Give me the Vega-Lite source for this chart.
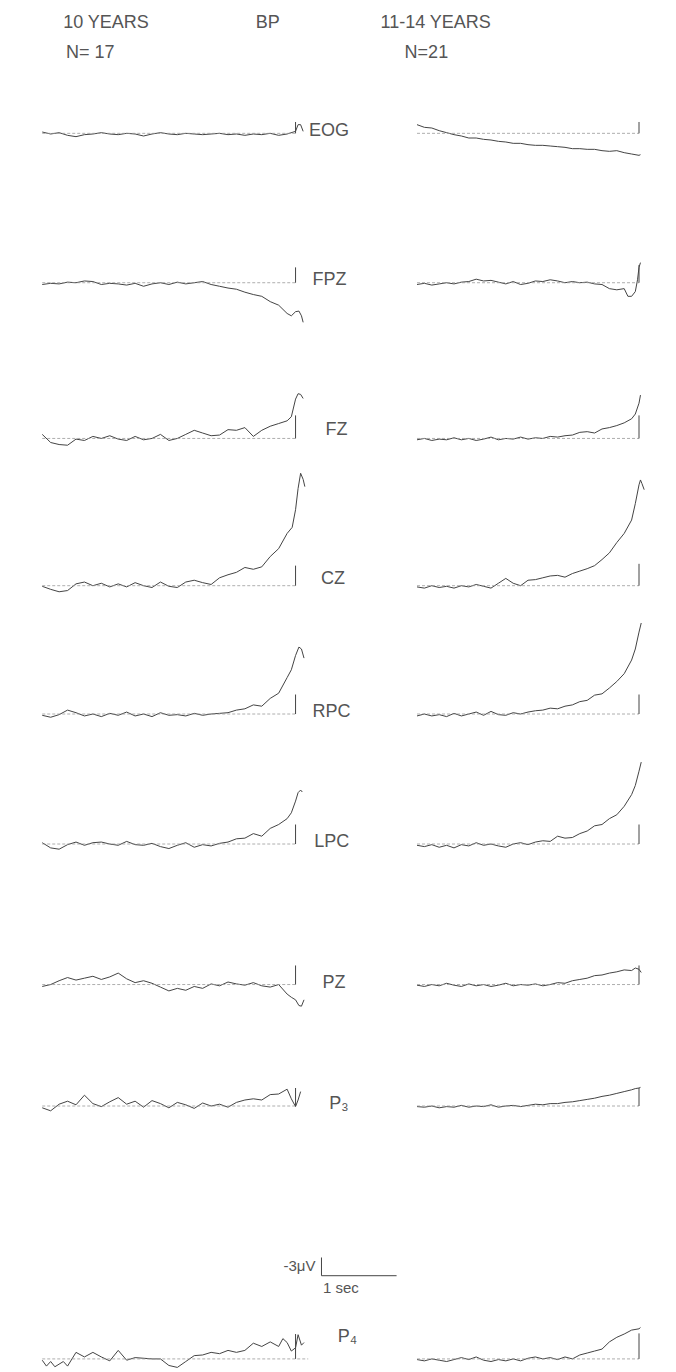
{
"$schema":"https://vega.github.io/schema/vega-lite/v6.json",
"background":"white","padding":0,"spacing":0,
"config":{"view":{"stroke":null},"concat":{"spacing":0},
"line":{"stroke":"#444","strokeWidth":1},
"rule":{"stroke":"#444","strokeWidth":1},
"text":{"font":"Liberation Sans","fontSize":18,"fill":"#555","baseline":"middle"}},
"datasets":{
"one":[{"k":1}],
"HDR_L":[{"text":"10 YEARS","t":-2.0,"line":1},{"text":"N= 17","t":-2.17,"line":2},{"text":"BP","t":-0.26,"line":1}],
"HDR_R":[{"text":"11-14 YEARS","t":-2.81,"line":1},{"text":"N=21","t":-2.91,"line":2}],
"EOG_L":[{"t":-3,"v":-0.2},{"t":-2.9,"v":0.1},{"t":-2.8,"v":-0.1},{"t":-2.7,"v":0.3},{"t":-2.6,"v":0.5},{"t":-2.5,"v":0.2},{"t":-2.4,"v":0.1},{"t":-2.3,"v":-0.1},{"t":-2.2,"v":0.1},{"t":-2.1,"v":0.2},{"t":-2,"v":0},{"t":-1.9,"v":0.1},{"t":-1.8,"v":0.4},{"t":-1.7,"v":0.1},{"t":-1.6,"v":-0.1},{"t":-1.5,"v":0.1},{"t":-1.4,"v":0.2},{"t":-1.3,"v":0},{"t":-1.2,"v":0.1},{"t":-1.1,"v":0.2},{"t":-1,"v":0.1},{"t":-0.9,"v":0},{"t":-0.8,"v":0.2},{"t":-0.7,"v":0.1},{"t":-0.6,"v":0.3},{"t":-0.5,"v":0.1},{"t":-0.4,"v":0.2},{"t":-0.3,"v":0},{"t":-0.2,"v":0.3},{"t":-0.1,"v":0.1},{"t":0,"v":-0.3},{"t":0.03,"v":-1.3},{"t":0.06,"v":-1.3},{"t":0.09,"v":-0.3}],
"EOG_R":[{"t":-3,"v":-1.3},{"t":-2.9,"v":-0.9},{"t":-2.8,"v":-0.8},{"t":-2.7,"v":-0.4},{"t":-2.6,"v":-0.1},{"t":-2.5,"v":0.2},{"t":-2.4,"v":0.4},{"t":-2.3,"v":0.7},{"t":-2.2,"v":0.7},{"t":-2.1,"v":0.9},{"t":-2,"v":1.0},{"t":-1.9,"v":1.2},{"t":-1.8,"v":1.3},{"t":-1.7,"v":1.5},{"t":-1.6,"v":1.5},{"t":-1.5,"v":1.7},{"t":-1.4,"v":1.8},{"t":-1.3,"v":1.8},{"t":-1.2,"v":1.9},{"t":-1.1,"v":2.0},{"t":-1,"v":2.1},{"t":-0.9,"v":2.3},{"t":-0.8,"v":2.3},{"t":-0.7,"v":2.4},{"t":-0.6,"v":2.4},{"t":-0.5,"v":2.6},{"t":-0.4,"v":2.7},{"t":-0.3,"v":2.6},{"t":-0.2,"v":2.9},{"t":-0.1,"v":3.1},{"t":0,"v":3.3},{"t":0.02,"v":3.2}],
"FPZ_L":[{"t":-3,"v":0.3},{"t":-2.9,"v":0.1},{"t":-2.8,"v":0.2},{"t":-2.7,"v":-0.1},{"t":-2.6,"v":0},{"t":-2.5,"v":-0.3},{"t":-2.4,"v":-0.2},{"t":-2.3,"v":0.3},{"t":-2.2,"v":0.1},{"t":-2.1,"v":0.2},{"t":-2,"v":0.4},{"t":-1.9,"v":0.1},{"t":-1.8,"v":0.6},{"t":-1.7,"v":0.2},{"t":-1.6,"v":0},{"t":-1.5,"v":0.3},{"t":-1.4,"v":-0.1},{"t":-1.3,"v":0.2},{"t":-1.2,"v":0},{"t":-1.1,"v":-0.2},{"t":-1,"v":0.3},{"t":-0.9,"v":0.6},{"t":-0.8,"v":0.9},{"t":-0.7,"v":1.1},{"t":-0.6,"v":1.6},{"t":-0.5,"v":2.0},{"t":-0.4,"v":2.3},{"t":-0.3,"v":3.2},{"t":-0.2,"v":3.8},{"t":-0.1,"v":5.2},{"t":-0.05,"v":5.6},{"t":0,"v":4.9},{"t":0.04,"v":4.8},{"t":0.07,"v":5.6},{"t":0.09,"v":6.7}],
"FPZ_R":[{"t":-3,"v":0.3},{"t":-2.9,"v":0.1},{"t":-2.8,"v":0.4},{"t":-2.7,"v":0.2},{"t":-2.6,"v":0},{"t":-2.5,"v":0.2},{"t":-2.4,"v":-0.1},{"t":-2.3,"v":-0.2},{"t":-2.2,"v":-0.6},{"t":-2.1,"v":-0.3},{"t":-2,"v":-0.4},{"t":-1.9,"v":-0.1},{"t":-1.8,"v":0.2},{"t":-1.7,"v":-0.2},{"t":-1.6,"v":0.3},{"t":-1.5,"v":0.1},{"t":-1.4,"v":-0.3},{"t":-1.3,"v":-0.2},{"t":-1.2,"v":-0.5},{"t":-1.1,"v":-0.3},{"t":-1,"v":0},{"t":-0.9,"v":-0.2},{"t":-0.8,"v":0},{"t":-0.7,"v":-0.1},{"t":-0.6,"v":0.2},{"t":-0.5,"v":0.3},{"t":-0.4,"v":1.0},{"t":-0.3,"v":1.2},{"t":-0.2,"v":1.0},{"t":-0.15,"v":2.3},{"t":-0.1,"v":2.3},{"t":-0.05,"v":1.5},{"t":-0.02,"v":-0.5},{"t":0,"v":-2.6},{"t":0.02,"v":-3.4}],
"FZ_L":[{"t":-3,"v":-0.6},{"t":-2.9,"v":0.6},{"t":-2.8,"v":0.9},{"t":-2.7,"v":1.0},{"t":-2.6,"v":0.1},{"t":-2.5,"v":0.3},{"t":-2.4,"v":-0.3},{"t":-2.3,"v":0},{"t":-2.2,"v":-0.4},{"t":-2.1,"v":0.1},{"t":-2,"v":0.3},{"t":-1.9,"v":-0.3},{"t":-1.8,"v":0.2},{"t":-1.7,"v":0},{"t":-1.6,"v":-0.6},{"t":-1.5,"v":0.3},{"t":-1.4,"v":0},{"t":-1.3,"v":-0.6},{"t":-1.2,"v":-1.2},{"t":-1.1,"v":-0.8},{"t":-1,"v":-0.4},{"t":-0.9,"v":-0.5},{"t":-0.8,"v":-1.3},{"t":-0.7,"v":-1.2},{"t":-0.6,"v":-1.6},{"t":-0.5,"v":-0.3},{"t":-0.4,"v":-1.2},{"t":-0.3,"v":-1.8},{"t":-0.2,"v":-2.2},{"t":-0.1,"v":-2.6},{"t":-0.05,"v":-3.2},{"t":0,"v":-5.8},{"t":0.03,"v":-6.6},{"t":0.06,"v":-6.5},{"t":0.09,"v":-5.9}],
"FZ_R":[{"t":-3,"v":0.2},{"t":-2.9,"v":0},{"t":-2.8,"v":0.3},{"t":-2.7,"v":0.1},{"t":-2.6,"v":0.2},{"t":-2.5,"v":-0.1},{"t":-2.4,"v":0.2},{"t":-2.3,"v":0},{"t":-2.2,"v":0.3},{"t":-2.1,"v":0.1},{"t":-2,"v":-0.2},{"t":-1.9,"v":0.2},{"t":-1.8,"v":0},{"t":-1.7,"v":0.1},{"t":-1.6,"v":-0.2},{"t":-1.5,"v":0.1},{"t":-1.4,"v":-0.1},{"t":-1.3,"v":0},{"t":-1.2,"v":-0.3},{"t":-1.1,"v":-0.2},{"t":-1,"v":-0.4},{"t":-0.9,"v":-0.5},{"t":-0.8,"v":-0.9},{"t":-0.7,"v":-1.0},{"t":-0.6,"v":-0.8},{"t":-0.5,"v":-1.4},{"t":-0.4,"v":-1.6},{"t":-0.3,"v":-1.9},{"t":-0.2,"v":-2.3},{"t":-0.1,"v":-2.9},{"t":-0.05,"v":-3.6},{"t":0,"v":-5.2},{"t":0.02,"v":-6.4}],
"CZ_L":[{"t":-3,"v":0.1},{"t":-2.9,"v":0.6},{"t":-2.8,"v":1.0},{"t":-2.7,"v":0.8},{"t":-2.6,"v":-0.3},{"t":-2.5,"v":-0.6},{"t":-2.4,"v":0},{"t":-2.3,"v":-0.4},{"t":-2.2,"v":0.2},{"t":-2.1,"v":-0.3},{"t":-2,"v":0.2},{"t":-1.9,"v":-0.5},{"t":-1.8,"v":0},{"t":-1.7,"v":0.3},{"t":-1.6,"v":-0.6},{"t":-1.5,"v":0.1},{"t":-1.4,"v":0.3},{"t":-1.3,"v":-0.6},{"t":-1.2,"v":-0.9},{"t":-1.1,"v":-0.5},{"t":-1,"v":-0.2},{"t":-0.9,"v":-1.3},{"t":-0.8,"v":-1.8},{"t":-0.7,"v":-2.2},{"t":-0.6,"v":-3.0},{"t":-0.5,"v":-2.7},{"t":-0.4,"v":-3.1},{"t":-0.3,"v":-4.8},{"t":-0.2,"v":-6.1},{"t":-0.1,"v":-8.6},{"t":-0.04,"v":-9.6},{"t":0,"v":-12.5},{"t":0.03,"v":-16.0},{"t":0.06,"v":-18.5},{"t":0.09,"v":-17.5},{"t":0.11,"v":-16.3}],
"CZ_R":[{"t":-3,"v":0.2},{"t":-2.9,"v":0.4},{"t":-2.8,"v":0},{"t":-2.7,"v":0.3},{"t":-2.6,"v":0.1},{"t":-2.5,"v":0.4},{"t":-2.4,"v":0},{"t":-2.3,"v":0.2},{"t":-2.2,"v":-0.2},{"t":-2.1,"v":0.1},{"t":-2,"v":0.4},{"t":-1.9,"v":-0.4},{"t":-1.8,"v":-1.2},{"t":-1.7,"v":-0.4},{"t":-1.6,"v":0},{"t":-1.5,"v":-0.9},{"t":-1.4,"v":-1.0},{"t":-1.3,"v":-1.3},{"t":-1.2,"v":-1.6},{"t":-1.1,"v":-1.7},{"t":-1,"v":-1.4},{"t":-0.9,"v":-2.0},{"t":-0.8,"v":-2.4},{"t":-0.7,"v":-2.8},{"t":-0.6,"v":-3.3},{"t":-0.5,"v":-4.3},{"t":-0.4,"v":-5.4},{"t":-0.3,"v":-7.1},{"t":-0.2,"v":-8.6},{"t":-0.1,"v":-10.8},{"t":-0.05,"v":-13.5},{"t":0,"v":-16.6},{"t":0.02,"v":-17.4},{"t":0.04,"v":-16.8},{"t":0.07,"v":-15.8}],
"RPC_L":[{"t":-3,"v":0.2},{"t":-2.9,"v":0.5},{"t":-2.8,"v":0.1},{"t":-2.7,"v":-0.6},{"t":-2.6,"v":-0.2},{"t":-2.5,"v":0.3},{"t":-2.4,"v":0},{"t":-2.3,"v":0.4},{"t":-2.2,"v":-0.1},{"t":-2.1,"v":0.2},{"t":-2,"v":-0.3},{"t":-1.9,"v":0.3},{"t":-1.8,"v":0},{"t":-1.7,"v":0.4},{"t":-1.6,"v":-0.2},{"t":-1.5,"v":0.2},{"t":-1.4,"v":0.1},{"t":-1.3,"v":0.3},{"t":-1.2,"v":-0.1},{"t":-1.1,"v":0.2},{"t":-1,"v":0},{"t":-0.9,"v":-0.1},{"t":-0.8,"v":-0.2},{"t":-0.7,"v":-0.6},{"t":-0.6,"v":-0.8},{"t":-0.5,"v":-1.4},{"t":-0.4,"v":-1.2},{"t":-0.3,"v":-2.4},{"t":-0.2,"v":-3.2},{"t":-0.1,"v":-5.6},{"t":-0.05,"v":-6.8},{"t":0,"v":-9.0},{"t":0.04,"v":-10.3},{"t":0.07,"v":-10.0},{"t":0.1,"v":-8.6}],
"RPC_R":[{"t":-3,"v":0.3},{"t":-2.9,"v":0},{"t":-2.8,"v":0.3},{"t":-2.7,"v":0.1},{"t":-2.6,"v":0.4},{"t":-2.5,"v":-0.1},{"t":-2.4,"v":0.3},{"t":-2.3,"v":0},{"t":-2.2,"v":-0.3},{"t":-2.1,"v":0.2},{"t":-2,"v":-0.4},{"t":-1.9,"v":0.1},{"t":-1.8,"v":0.2},{"t":-1.7,"v":-0.2},{"t":-1.6,"v":0},{"t":-1.5,"v":-0.3},{"t":-1.4,"v":-0.5},{"t":-1.3,"v":-0.6},{"t":-1.2,"v":-0.9},{"t":-1.1,"v":-0.8},{"t":-1,"v":-1.2},{"t":-0.9,"v":-1.4},{"t":-0.8,"v":-1.9},{"t":-0.7,"v":-2.1},{"t":-0.6,"v":-2.9},{"t":-0.5,"v":-3.1},{"t":-0.4,"v":-4.0},{"t":-0.3,"v":-5.0},{"t":-0.2,"v":-6.2},{"t":-0.1,"v":-8.3},{"t":-0.05,"v":-10.0},{"t":0,"v":-12.6},{"t":0.03,"v":-14.0}],
"LPC_L":[{"t":-3,"v":-0.2},{"t":-2.9,"v":0.6},{"t":-2.8,"v":0.8},{"t":-2.7,"v":0.1},{"t":-2.6,"v":-0.3},{"t":-2.5,"v":0.2},{"t":-2.4,"v":-0.2},{"t":-2.3,"v":-0.3},{"t":-2.2,"v":0},{"t":-2.1,"v":0.2},{"t":-2,"v":-0.4},{"t":-1.9,"v":0.1},{"t":-1.8,"v":0.2},{"t":-1.7,"v":-0.1},{"t":-1.6,"v":0.4},{"t":-1.5,"v":0.7},{"t":-1.4,"v":0.2},{"t":-1.3,"v":-0.2},{"t":-1.2,"v":0.5},{"t":-1.1,"v":0.1},{"t":-1,"v":0.3},{"t":-0.9,"v":-0.1},{"t":-0.8,"v":-0.3},{"t":-0.7,"v":-0.8},{"t":-0.6,"v":-0.9},{"t":-0.5,"v":-1.6},{"t":-0.4,"v":-1.2},{"t":-0.3,"v":-2.4},{"t":-0.2,"v":-3.0},{"t":-0.1,"v":-3.9},{"t":-0.05,"v":-4.8},{"t":0,"v":-6.6},{"t":0.03,"v":-7.9},{"t":0.06,"v":-8.3},{"t":0.08,"v":-8.0}],
"LPC_R":[{"t":-3,"v":0.2},{"t":-2.9,"v":0.4},{"t":-2.8,"v":0.1},{"t":-2.7,"v":0.5},{"t":-2.6,"v":0.2},{"t":-2.5,"v":0.6},{"t":-2.4,"v":0.1},{"t":-2.3,"v":0.3},{"t":-2.2,"v":-0.2},{"t":-2.1,"v":0.2},{"t":-2,"v":0},{"t":-1.9,"v":0.3},{"t":-1.8,"v":0.5},{"t":-1.7,"v":0},{"t":-1.6,"v":-0.2},{"t":-1.5,"v":0.1},{"t":-1.4,"v":-0.3},{"t":-1.3,"v":-0.5},{"t":-1.2,"v":-0.4},{"t":-1.1,"v":-1.2},{"t":-1,"v":-0.9},{"t":-0.9,"v":-1.0},{"t":-0.8,"v":-1.6},{"t":-0.7,"v":-2.0},{"t":-0.6,"v":-2.8},{"t":-0.5,"v":-3.0},{"t":-0.4,"v":-3.9},{"t":-0.3,"v":-4.5},{"t":-0.2,"v":-5.8},{"t":-0.1,"v":-7.6},{"t":-0.05,"v":-9.0},{"t":0,"v":-11.2},{"t":0.03,"v":-12.6}],
"PZ_L":[{"t":-3,"v":0.3},{"t":-2.9,"v":0},{"t":-2.8,"v":-0.6},{"t":-2.7,"v":-1.1},{"t":-2.6,"v":-0.7},{"t":-2.5,"v":-1.0},{"t":-2.4,"v":-1.3},{"t":-2.3,"v":-0.8},{"t":-2.2,"v":-1.2},{"t":-2.1,"v":-1.8},{"t":-2,"v":-0.9},{"t":-1.9,"v":-0.3},{"t":-1.8,"v":-0.6},{"t":-1.7,"v":-0.2},{"t":-1.6,"v":0.4},{"t":-1.5,"v":1.0},{"t":-1.4,"v":0.6},{"t":-1.3,"v":0.9},{"t":-1.2,"v":0.3},{"t":-1.1,"v":0.6},{"t":-1,"v":-0.1},{"t":-0.9,"v":0.2},{"t":-0.8,"v":-0.4},{"t":-0.7,"v":-0.1},{"t":-0.6,"v":0.1},{"t":-0.5,"v":-0.3},{"t":-0.4,"v":0.2},{"t":-0.3,"v":0.4},{"t":-0.2,"v":0},{"t":-0.1,"v":1.5},{"t":-0.05,"v":2.0},{"t":0,"v":2.4},{"t":0.04,"v":3.3},{"t":0.07,"v":3.4},{"t":0.1,"v":2.4}],
"PZ_R":[{"t":-3,"v":0.1},{"t":-2.9,"v":0.3},{"t":-2.8,"v":0},{"t":-2.7,"v":0.2},{"t":-2.6,"v":-0.2},{"t":-2.5,"v":0.1},{"t":-2.4,"v":0.3},{"t":-2.3,"v":-0.1},{"t":-2.2,"v":0.2},{"t":-2.1,"v":0},{"t":-2,"v":0.3},{"t":-1.9,"v":0.1},{"t":-1.8,"v":-0.2},{"t":-1.7,"v":0.2},{"t":-1.6,"v":0},{"t":-1.5,"v":0.1},{"t":-1.4,"v":-0.1},{"t":-1.3,"v":0.2},{"t":-1.2,"v":0},{"t":-1.1,"v":-0.3},{"t":-1,"v":-0.2},{"t":-0.9,"v":-0.6},{"t":-0.8,"v":-0.8},{"t":-0.7,"v":-1.0},{"t":-0.6,"v":-1.4},{"t":-0.5,"v":-1.5},{"t":-0.4,"v":-1.8},{"t":-0.3,"v":-2.0},{"t":-0.2,"v":-2.3},{"t":-0.1,"v":-2.2},{"t":-0.05,"v":-2.6},{"t":0,"v":-2.4},{"t":0.03,"v":-1.9}],
"P3_L":[{"t":-3,"v":0.3},{"t":-2.9,"v":0.8},{"t":-2.8,"v":-0.3},{"t":-2.7,"v":-0.8},{"t":-2.6,"v":-0.2},{"t":-2.5,"v":-1.8},{"t":-2.4,"v":-0.4},{"t":-2.3,"v":0.1},{"t":-2.2,"v":-0.7},{"t":-2.1,"v":-1.4},{"t":-2,"v":-0.3},{"t":-1.9,"v":-0.8},{"t":-1.8,"v":0.2},{"t":-1.7,"v":-0.9},{"t":-1.6,"v":-0.4},{"t":-1.5,"v":0.3},{"t":-1.4,"v":-0.6},{"t":-1.3,"v":-0.2},{"t":-1.2,"v":0.4},{"t":-1.1,"v":-0.5},{"t":-1,"v":0},{"t":-0.9,"v":-0.3},{"t":-0.8,"v":0.2},{"t":-0.7,"v":-0.6},{"t":-0.6,"v":-1.0},{"t":-0.5,"v":-1.2},{"t":-0.4,"v":-1.0},{"t":-0.3,"v":-1.9},{"t":-0.2,"v":-2.0},{"t":-0.1,"v":-2.8},{"t":-0.05,"v":-1.2},{"t":0,"v":0.1},{"t":0.03,"v":-1.0},{"t":0.06,"v":-2.4}],
"P3_R":[{"t":-3,"v":0.1},{"t":-2.9,"v":0.2},{"t":-2.8,"v":0},{"t":-2.7,"v":0.3},{"t":-2.6,"v":0.1},{"t":-2.5,"v":0.2},{"t":-2.4,"v":-0.1},{"t":-2.3,"v":0.2},{"t":-2.2,"v":0},{"t":-2.1,"v":0.1},{"t":-2,"v":-0.2},{"t":-1.9,"v":0.2},{"t":-1.8,"v":0},{"t":-1.7,"v":-0.1},{"t":-1.6,"v":0.1},{"t":-1.5,"v":-0.1},{"t":-1.4,"v":-0.3},{"t":-1.3,"v":-0.2},{"t":-1.2,"v":-0.4},{"t":-1.1,"v":-0.4},{"t":-1,"v":-0.6},{"t":-0.9,"v":-0.7},{"t":-0.8,"v":-0.9},{"t":-0.7,"v":-1.1},{"t":-0.6,"v":-1.3},{"t":-0.5,"v":-1.6},{"t":-0.4,"v":-1.8},{"t":-0.3,"v":-2.1},{"t":-0.2,"v":-2.4},{"t":-0.1,"v":-2.7},{"t":-0.05,"v":-2.9},{"t":0,"v":-3.0},{"t":0.02,"v":-3.1}],
"P4_L":[{"t":-3,"v":0.2},{"t":-2.95,"v":1.1},{"t":-2.9,"v":0.4},{"t":-2.85,"v":1.2},{"t":-2.75,"v":0.4},{"t":-2.7,"v":1.1},{"t":-2.6,"v":-1.0},{"t":-2.5,"v":-0.3},{"t":-2.4,"v":-1.0},{"t":-2.3,"v":-0.3},{"t":-2.2,"v":0.3},{"t":-2.1,"v":-1.3},{"t":-2,"v":0.2},{"t":-1.9,"v":-0.2},{"t":-1.7,"v":0},{"t":-1.6,"v":0},{"t":-1.5,"v":1.0},{"t":-1.4,"v":1.3},{"t":-1.3,"v":0.4},{"t":-1.2,"v":-0.5},{"t":-1.1,"v":-0.6},{"t":-1,"v":-1.0},{"t":-0.9,"v":-0.8},{"t":-0.8,"v":-1.3},{"t":-0.7,"v":-1.0},{"t":-0.6,"v":-1.3},{"t":-0.5,"v":-2.4},{"t":-0.4,"v":-1.9},{"t":-0.3,"v":-2.6},{"t":-0.2,"v":-1.9},{"t":-0.15,"v":-3.1},{"t":-0.1,"v":-2.5},{"t":-0.05,"v":-1.2},{"t":0,"v":-1.7},{"t":0.03,"v":-3.7},{"t":0.07,"v":-2.1},{"t":0.1,"v":-2.5}],
"P4_R":[{"t":-3,"v":0.1},{"t":-2.9,"v":0.3},{"t":-2.8,"v":0},{"t":-2.7,"v":0.2},{"t":-2.6,"v":0.4},{"t":-2.5,"v":0.1},{"t":-2.4,"v":-0.2},{"t":-2.3,"v":0.1},{"t":-2.2,"v":-0.3},{"t":-2.1,"v":0.2},{"t":-2,"v":0.4},{"t":-1.9,"v":0.1},{"t":-1.8,"v":0.3},{"t":-1.7,"v":0},{"t":-1.6,"v":0.3},{"t":-1.5,"v":-0.1},{"t":-1.4,"v":-0.3},{"t":-1.3,"v":0},{"t":-1.2,"v":-0.2},{"t":-1.1,"v":0.1},{"t":-1,"v":-0.3},{"t":-0.9,"v":0},{"t":-0.8,"v":-0.6},{"t":-0.7,"v":-0.9},{"t":-0.6,"v":-1.2},{"t":-0.5,"v":-1.5},{"t":-0.4,"v":-2.6},{"t":-0.3,"v":-3.3},{"t":-0.2,"v":-3.8},{"t":-0.1,"v":-4.4},{"t":0,"v":-4.6},{"t":0.02,"v":-4.8}]
},
"vconcat":[
{"hconcat":[
 {"width":380,"height":80,"data":{"name":"HDR_L"},"mark":{"type":"text","align":"center"},"encoding":{"x":{"field":"t","type":"quantitative","scale":{"domain":[-3.1398,0.9462]},"axis":null},"y":{"field":"line","type":"quantitative","scale":{"domain":[0.233,2.9],"reverse":true},"axis":null},"text":{"field":"text","type":"nominal"}}},
 {"width":296,"height":80,"data":{"name":"HDR_R"},"mark":{"type":"text","align":"center"},"encoding":{"x":{"field":"t","type":"quantitative","scale":{"domain":[-3.0968,0.086]},"axis":null},"y":{"field":"line","type":"quantitative","scale":{"domain":[0.233,2.9],"reverse":true},"axis":null},"text":{"field":"text","type":"nominal"}}}
]},
{"hconcat":[
 {"width":380,"height":120,"layer":[
  {"data":{"name":"EOG_L"},"mark":"line","encoding":{"x":{"field":"t","type":"quantitative","scale":{"domain":[-3.1398,0.9462]},"axis":null},"y":{"field":"v","type":"quantitative","scale":{"domain":[-7.571,9.571],"reverse":true},"axis":null}}},
  {"data":{"name":"one"},"mark":{"type":"rule","stroke":"#999","strokeDash":[3,2],"strokeWidth":0.8},"encoding":{"x":{"datum":-3},"x2":{"datum":0},"y":{"datum":0}}},
  {"data":{"name":"one"},"mark":"rule","encoding":{"x":{"datum":0},"y":{"datum":0},"y2":{"datum":-1.7}}},
  {"data":{"name":"one"},"mark":{"type":"text","align":"left"},"encoding":{"x":{"datum":0.16},"y":{"datum":-0.3},"text":{"value":"EOG"}}}
 ]},
 {"width":296,"height":120,"layer":[
  {"data":{"name":"EOG_R"},"mark":"line","encoding":{"x":{"field":"t","type":"quantitative","scale":{"domain":[-3.0968,0.086]},"axis":null},"y":{"field":"v","type":"quantitative","scale":{"domain":[-7.571,9.571],"reverse":true},"axis":null}}},
  {"data":{"name":"one"},"mark":{"type":"rule","stroke":"#999","strokeDash":[3,2],"strokeWidth":0.8},"encoding":{"x":{"datum":-3},"x2":{"datum":0},"y":{"datum":0}}},
  {"data":{"name":"one"},"mark":"rule","encoding":{"x":{"datum":0},"y":{"datum":0},"y2":{"datum":-1.7}}}
 ]}
]},
{"hconcat":[
 {"width":380,"height":130,"layer":[
  {"data":{"name":"FPZ_L"},"mark":"line","encoding":{"x":{"field":"t","type":"quantitative","scale":{"domain":[-3.1398,0.9462]},"axis":null},"y":{"field":"v","type":"quantitative","scale":{"domain":[-12.143,6.429],"reverse":true},"axis":null}}},
  {"data":{"name":"one"},"mark":{"type":"rule","stroke":"#999","strokeDash":[3,2],"strokeWidth":0.8},"encoding":{"x":{"datum":-3},"x2":{"datum":0},"y":{"datum":0}}},
  {"data":{"name":"one"},"mark":"rule","encoding":{"x":{"datum":0},"y":{"datum":0},"y2":{"datum":-2.6}}},
  {"data":{"name":"one"},"mark":{"type":"text","align":"left"},"encoding":{"x":{"datum":0.2},"y":{"datum":-0.4},"text":{"value":"FPZ"}}}
 ]},
 {"width":296,"height":130,"layer":[
  {"data":{"name":"FPZ_R"},"mark":"line","encoding":{"x":{"field":"t","type":"quantitative","scale":{"domain":[-3.0968,0.086]},"axis":null},"y":{"field":"v","type":"quantitative","scale":{"domain":[-12.143,6.429],"reverse":true},"axis":null}}},
  {"data":{"name":"one"},"mark":{"type":"rule","stroke":"#999","strokeDash":[3,2],"strokeWidth":0.8},"encoding":{"x":{"datum":-3},"x2":{"datum":0},"y":{"datum":0}}},
  {"data":{"name":"one"},"mark":"rule","encoding":{"x":{"datum":0},"y":{"datum":0},"y2":{"datum":-3}}}
 ]}
]},
{"hconcat":[
 {"width":380,"height":122,"layer":[
  {"data":{"name":"FZ_L"},"mark":"line","encoding":{"x":{"field":"t","type":"quantitative","scale":{"domain":[-3.1398,0.9462]},"axis":null},"y":{"field":"v","type":"quantitative","scale":{"domain":[-15.571,1.857],"reverse":true},"axis":null}}},
  {"data":{"name":"one"},"mark":{"type":"rule","stroke":"#999","strokeDash":[3,2],"strokeWidth":0.8},"encoding":{"x":{"datum":-3},"x2":{"datum":0},"y":{"datum":0}}},
  {"data":{"name":"one"},"mark":"rule","encoding":{"x":{"datum":0},"y":{"datum":0},"y2":{"datum":-3.4}}},
  {"data":{"name":"one"},"mark":{"type":"text","align":"left"},"encoding":{"x":{"datum":0.355},"y":{"datum":-1.3},"text":{"value":"FZ"}}}
 ]},
 {"width":296,"height":122,"layer":[
  {"data":{"name":"FZ_R"},"mark":"line","encoding":{"x":{"field":"t","type":"quantitative","scale":{"domain":[-3.0968,0.086]},"axis":null},"y":{"field":"v","type":"quantitative","scale":{"domain":[-15.571,1.857],"reverse":true},"axis":null}}},
  {"data":{"name":"one"},"mark":{"type":"rule","stroke":"#999","strokeDash":[3,2],"strokeWidth":0.8},"encoding":{"x":{"datum":-3},"x2":{"datum":0},"y":{"datum":0}}},
  {"data":{"name":"one"},"mark":"rule","encoding":{"x":{"datum":0},"y":{"datum":0},"y2":{"datum":-3.4}}}
 ]}
]},
{"hconcat":[
 {"width":380,"height":158,"layer":[
  {"data":{"name":"CZ_L"},"mark":"line","encoding":{"x":{"field":"t","type":"quantitative","scale":{"domain":[-3.1398,0.9462]},"axis":null},"y":{"field":"v","type":"quantitative","scale":{"domain":[-20.143,2.429],"reverse":true},"axis":null}}},
  {"data":{"name":"one"},"mark":{"type":"rule","stroke":"#999","strokeDash":[3,2],"strokeWidth":0.8},"encoding":{"x":{"datum":-3},"x2":{"datum":0},"y":{"datum":0}}},
  {"data":{"name":"one"},"mark":"rule","encoding":{"x":{"datum":0},"y":{"datum":0},"y2":{"datum":-3.3}}},
  {"data":{"name":"one"},"mark":{"type":"text","align":"left"},"encoding":{"x":{"datum":0.3},"y":{"datum":-1.1},"text":{"value":"CZ"}}}
 ]},
 {"width":296,"height":158,"layer":[
  {"data":{"name":"CZ_R"},"mark":"line","encoding":{"x":{"field":"t","type":"quantitative","scale":{"domain":[-3.0968,0.086]},"axis":null},"y":{"field":"v","type":"quantitative","scale":{"domain":[-20.143,2.429],"reverse":true},"axis":null}}},
  {"data":{"name":"one"},"mark":{"type":"rule","stroke":"#999","strokeDash":[3,2],"strokeWidth":0.8},"encoding":{"x":{"datum":-3},"x2":{"datum":0},"y":{"datum":0}}},
  {"data":{"name":"one"},"mark":"rule","encoding":{"x":{"datum":0},"y":{"datum":0},"y2":{"datum":-3.6}}}
 ]}
]},
{"hconcat":[
 {"width":380,"height":130,"layer":[
  {"data":{"name":"RPC_L"},"mark":"line","encoding":{"x":{"field":"t","type":"quantitative","scale":{"domain":[-3.1398,0.9462]},"axis":null},"y":{"field":"v","type":"quantitative","scale":{"domain":[-15.571,3.0],"reverse":true},"axis":null}}},
  {"data":{"name":"one"},"mark":{"type":"rule","stroke":"#999","strokeDash":[3,2],"strokeWidth":0.8},"encoding":{"x":{"datum":-3},"x2":{"datum":0},"y":{"datum":0}}},
  {"data":{"name":"one"},"mark":"rule","encoding":{"x":{"datum":0},"y":{"datum":0},"y2":{"datum":-3}}},
  {"data":{"name":"one"},"mark":{"type":"text","align":"left"},"encoding":{"x":{"datum":0.2},"y":{"datum":-0.3},"text":{"value":"RPC"}}}
 ]},
 {"width":296,"height":130,"layer":[
  {"data":{"name":"RPC_R"},"mark":"line","encoding":{"x":{"field":"t","type":"quantitative","scale":{"domain":[-3.0968,0.086]},"axis":null},"y":{"field":"v","type":"quantitative","scale":{"domain":[-15.571,3.0],"reverse":true},"axis":null}}},
  {"data":{"name":"one"},"mark":{"type":"rule","stroke":"#999","strokeDash":[3,2],"strokeWidth":0.8},"encoding":{"x":{"datum":-3},"x2":{"datum":0},"y":{"datum":0}}},
  {"data":{"name":"one"},"mark":"rule","encoding":{"x":{"datum":0},"y":{"datum":0},"y2":{"datum":-3}}}
 ]}
]},
{"hconcat":[
 {"width":380,"height":130,"layer":[
  {"data":{"name":"LPC_L"},"mark":"line","encoding":{"x":{"field":"t","type":"quantitative","scale":{"domain":[-3.1398,0.9462]},"axis":null},"y":{"field":"v","type":"quantitative","scale":{"domain":[-15.286,3.286],"reverse":true},"axis":null}}},
  {"data":{"name":"one"},"mark":{"type":"rule","stroke":"#999","strokeDash":[3,2],"strokeWidth":0.8},"encoding":{"x":{"datum":-3},"x2":{"datum":0},"y":{"datum":0}}},
  {"data":{"name":"one"},"mark":"rule","encoding":{"x":{"datum":0},"y":{"datum":0},"y2":{"datum":-3}}},
  {"data":{"name":"one"},"mark":{"type":"text","align":"left"},"encoding":{"x":{"datum":0.22},"y":{"datum":-0.3},"text":{"value":"LPC"}}}
 ]},
 {"width":296,"height":130,"layer":[
  {"data":{"name":"LPC_R"},"mark":"line","encoding":{"x":{"field":"t","type":"quantitative","scale":{"domain":[-3.0968,0.086]},"axis":null},"y":{"field":"v","type":"quantitative","scale":{"domain":[-15.286,3.286],"reverse":true},"axis":null}}},
  {"data":{"name":"one"},"mark":{"type":"rule","stroke":"#999","strokeDash":[3,2],"strokeWidth":0.8},"encoding":{"x":{"datum":-3},"x2":{"datum":0},"y":{"datum":0}}},
  {"data":{"name":"one"},"mark":"rule","encoding":{"x":{"datum":0},"y":{"datum":0},"y2":{"datum":-3}}}
 ]}
]},
{"hconcat":[
 {"width":380,"height":140,"layer":[
  {"data":{"name":"PZ_L"},"mark":"line","encoding":{"x":{"field":"t","type":"quantitative","scale":{"domain":[-3.1398,0.9462]},"axis":null},"y":{"field":"v","type":"quantitative","scale":{"domain":[-16.286,3.714],"reverse":true},"axis":null}}},
  {"data":{"name":"one"},"mark":{"type":"rule","stroke":"#999","strokeDash":[3,2],"strokeWidth":0.8},"encoding":{"x":{"datum":-3},"x2":{"datum":0},"y":{"datum":0}}},
  {"data":{"name":"one"},"mark":"rule","encoding":{"x":{"datum":0},"y":{"datum":0},"y2":{"datum":-3}}},
  {"data":{"name":"one"},"mark":{"type":"text","align":"left"},"encoding":{"x":{"datum":0.32},"y":{"datum":-0.3},"text":{"value":"PZ"}}}
 ]},
 {"width":296,"height":140,"layer":[
  {"data":{"name":"PZ_R"},"mark":"line","encoding":{"x":{"field":"t","type":"quantitative","scale":{"domain":[-3.0968,0.086]},"axis":null},"y":{"field":"v","type":"quantitative","scale":{"domain":[-16.286,3.714],"reverse":true},"axis":null}}},
  {"data":{"name":"one"},"mark":{"type":"rule","stroke":"#999","strokeDash":[3,2],"strokeWidth":0.8},"encoding":{"x":{"datum":-3},"x2":{"datum":0},"y":{"datum":0}}},
  {"data":{"name":"one"},"mark":"rule","encoding":{"x":{"datum":0},"y":{"datum":0},"y2":{"datum":-3}}}
 ]}
]},
{"hconcat":[
 {"width":380,"height":120,"layer":[
  {"data":{"name":"P3_L"},"mark":"line","encoding":{"x":{"field":"t","type":"quantitative","scale":{"domain":[-3.1398,0.9462]},"axis":null},"y":{"field":"v","type":"quantitative","scale":{"domain":[-14.714,2.429],"reverse":true},"axis":null}}},
  {"data":{"name":"one"},"mark":{"type":"rule","stroke":"#999","strokeDash":[3,2],"strokeWidth":0.8},"encoding":{"x":{"datum":-3},"x2":{"datum":0},"y":{"datum":0}}},
  {"data":{"name":"one"},"mark":"rule","encoding":{"x":{"datum":0},"y":{"datum":0},"y2":{"datum":-3}}},
  {"data":{"name":"one"},"mark":{"type":"text","align":"left"},"encoding":{"x":{"datum":0.4},"y":{"datum":-0.3},"text":{"value":"P₃"}}}
 ]},
 {"width":296,"height":120,"layer":[
  {"data":{"name":"P3_R"},"mark":"line","encoding":{"x":{"field":"t","type":"quantitative","scale":{"domain":[-3.0968,0.086]},"axis":null},"y":{"field":"v","type":"quantitative","scale":{"domain":[-14.714,2.429],"reverse":true},"axis":null}}},
  {"data":{"name":"one"},"mark":{"type":"rule","stroke":"#999","strokeDash":[3,2],"strokeWidth":0.8},"encoding":{"x":{"datum":-3},"x2":{"datum":0},"y":{"datum":0}}},
  {"data":{"name":"one"},"mark":"rule","encoding":{"x":{"datum":0},"y":{"datum":0},"y2":{"datum":-3}}}
 ]}
]},
{"width":676,"height":170,"data":{"name":"one"},"layer":[
  {"mark":"rule","encoding":{"x":{"datum":0.28,"type":"quantitative","scale":{"domain":[-3.1398,4.129]},"axis":null},"y":{"datum":0,"type":"quantitative","scale":{"domain":[-22.143,2.143],"reverse":true},"axis":null},"y2":{"datum":-3}}},
  {"mark":"rule","encoding":{"x":{"datum":0.28},"x2":{"datum":1.28},"y":{"datum":0}}},
  {"mark":{"type":"text","align":"right","fontSize":15},"encoding":{"x":{"datum":0.2},"y":{"datum":-1.6},"text":{"value":"-3μV"}}},
  {"mark":{"type":"text","align":"left","baseline":"top","fontSize":15},"encoding":{"x":{"datum":0.3},"y":{"datum":0.8},"text":{"value":"1 sec"}}}
]},
{"hconcat":[
 {"width":380,"height":72,"layer":[
  {"data":{"name":"P4_L"},"mark":"line","encoding":{"x":{"field":"t","type":"quantitative","scale":{"domain":[-3.1398,0.9462]},"axis":null},"y":{"field":"v","type":"quantitative","scale":{"domain":[-8.714,1.571],"reverse":true},"axis":null}}},
  {"data":{"name":"one"},"mark":{"type":"rule","stroke":"#999","strokeDash":[3,2],"strokeWidth":0.8},"encoding":{"x":{"datum":-3},"x2":{"datum":0.15},"y":{"datum":0}}},
  {"data":{"name":"one"},"mark":"rule","encoding":{"x":{"datum":0},"y":{"datum":0},"y2":{"datum":-3.8}}},
  {"data":{"name":"one"},"mark":{"type":"text","align":"left"},"encoding":{"x":{"datum":0.5},"y":{"datum":-3.4},"text":{"value":"P₄"}}}
 ]},
 {"width":296,"height":72,"layer":[
  {"data":{"name":"P4_R"},"mark":"line","encoding":{"x":{"field":"t","type":"quantitative","scale":{"domain":[-3.0968,0.086]},"axis":null},"y":{"field":"v","type":"quantitative","scale":{"domain":[-8.714,1.571],"reverse":true},"axis":null}}},
  {"data":{"name":"one"},"mark":{"type":"rule","stroke":"#999","strokeDash":[3,2],"strokeWidth":0.8},"encoding":{"x":{"datum":-3},"x2":{"datum":0},"y":{"datum":0}}},
  {"data":{"name":"one"},"mark":"rule","encoding":{"x":{"datum":0},"y":{"datum":0},"y2":{"datum":-3.9}}}
 ]}
]}
]
}
